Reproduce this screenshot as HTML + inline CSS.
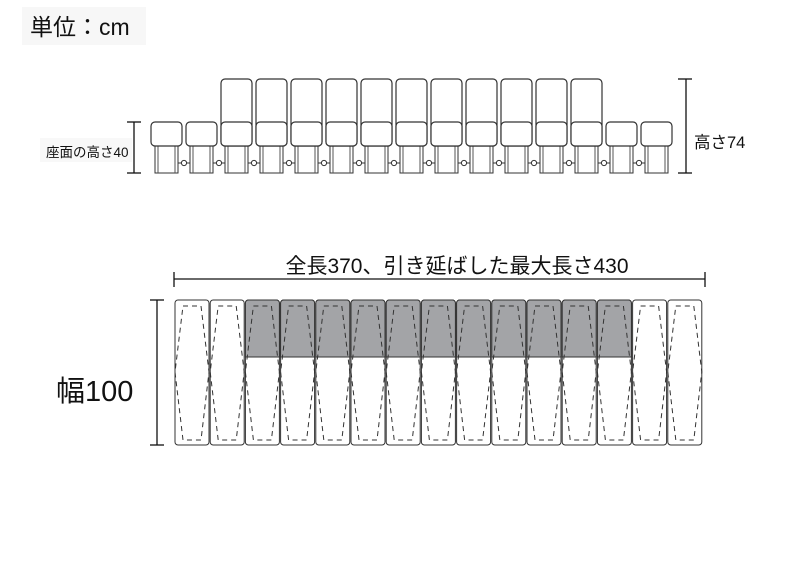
<!DOCTYPE html>
<html><head><meta charset="utf-8"><style>
html,body{margin:0;padding:0;background:#fff;width:790px;height:577px;overflow:hidden}
text{font-family:"Liberation Sans","Noto Sans CJK JP",sans-serif;fill:#111}
</style></head><body>
<svg id="s" width="790" height="577" xmlns="http://www.w3.org/2000/svg">
<rect x="22" y="7" width="124" height="38" fill="#f7f7f7"/>
<text x="30" y="35" font-size="23">単位：cm</text>
<rect x="40" y="138" width="92" height="24" fill="#f8f8f8"/>
<text x="46" y="157" font-size="13.5">座面の高さ40</text>
<g stroke="#111" stroke-width="1.3" fill="none">
<line x1="134" y1="122" x2="134" y2="173"/><line x1="127" y1="122" x2="141" y2="122"/><line x1="127" y1="173" x2="141" y2="173"/>
<line x1="686" y1="79" x2="686" y2="173"/><line x1="678" y1="79" x2="692" y2="79"/><line x1="678" y1="173" x2="692" y2="173"/>
<line x1="174" y1="279" x2="705" y2="279"/><line x1="174" y1="272" x2="174" y2="287"/><line x1="705" y1="272" x2="705" y2="287"/>
<line x1="157" y1="300" x2="157" y2="445"/><line x1="150" y1="300" x2="164" y2="300"/><line x1="150" y1="445" x2="164" y2="445"/>
</g>
<text x="694" y="148" font-size="16.5">高さ74</text>
<text x="457" y="273" font-size="21" text-anchor="middle">全長370、引き延ばした最大長さ430</text>
<text x="56" y="401" font-size="29">幅100</text>
<g id="g"></g>
</svg>
<script>
var g=document.getElementById('g'),h='';
for(var i=0;i<15;i++){
 var x=151+i*35, tall=(i>=2&&i<=12);
 h+='<rect x="'+(x+4)+'" y="146" width="23" height="27" fill="#fff" stroke="#333" stroke-width="1"/>';
 h+='<line x1="'+(x+7)+'" y1="146" x2="'+(x+7)+'" y2="173" stroke="#555" stroke-width="1"/>';
 h+='<line x1="'+(x+24)+'" y1="146" x2="'+(x+24)+'" y2="173" stroke="#555" stroke-width="1"/>';
 if(tall) h+='<rect x="'+x+'" y="79" width="31" height="67" rx="4" fill="#fff" stroke="#333" stroke-width="1.2"/>';
 h+='<rect x="'+x+'" y="122" width="31" height="24" rx="4" fill="#fff" stroke="#333" stroke-width="1.2"/>';
 if(i<14){h+='<line x1="'+(x+27)+'" y1="163" x2="'+(x+39)+'" y2="163" stroke="#333"/><circle cx="'+(x+33)+'" cy="163" r="2.6" fill="#fff" stroke="#333"/>';}
 var bx=175+i*35.2, w=34;
 h+='<rect x="'+bx+'" y="300" width="'+w+'" height="145" rx="3" fill="#fff" stroke="#333" stroke-width="1"/>';
 if(tall) h+='<path d="M'+bx+' 357 V303 a3 3 0 0 1 3 -3 H'+(bx+w-3)+' a3 3 0 0 1 3 3 V357 Z" fill="#a3a4a7" stroke="#333" stroke-width="1"/>';
 h+='<polygon points="'+(bx+8)+',306 '+(bx+w-8)+',306 '+(bx+w)+',372 '+(bx+w-8)+',440 '+(bx+8)+',440 '+bx+',372" fill="none" stroke="#333" stroke-width="1" stroke-dasharray="5,4"/>';
}
g.innerHTML=h;
</script>
</body></html>
